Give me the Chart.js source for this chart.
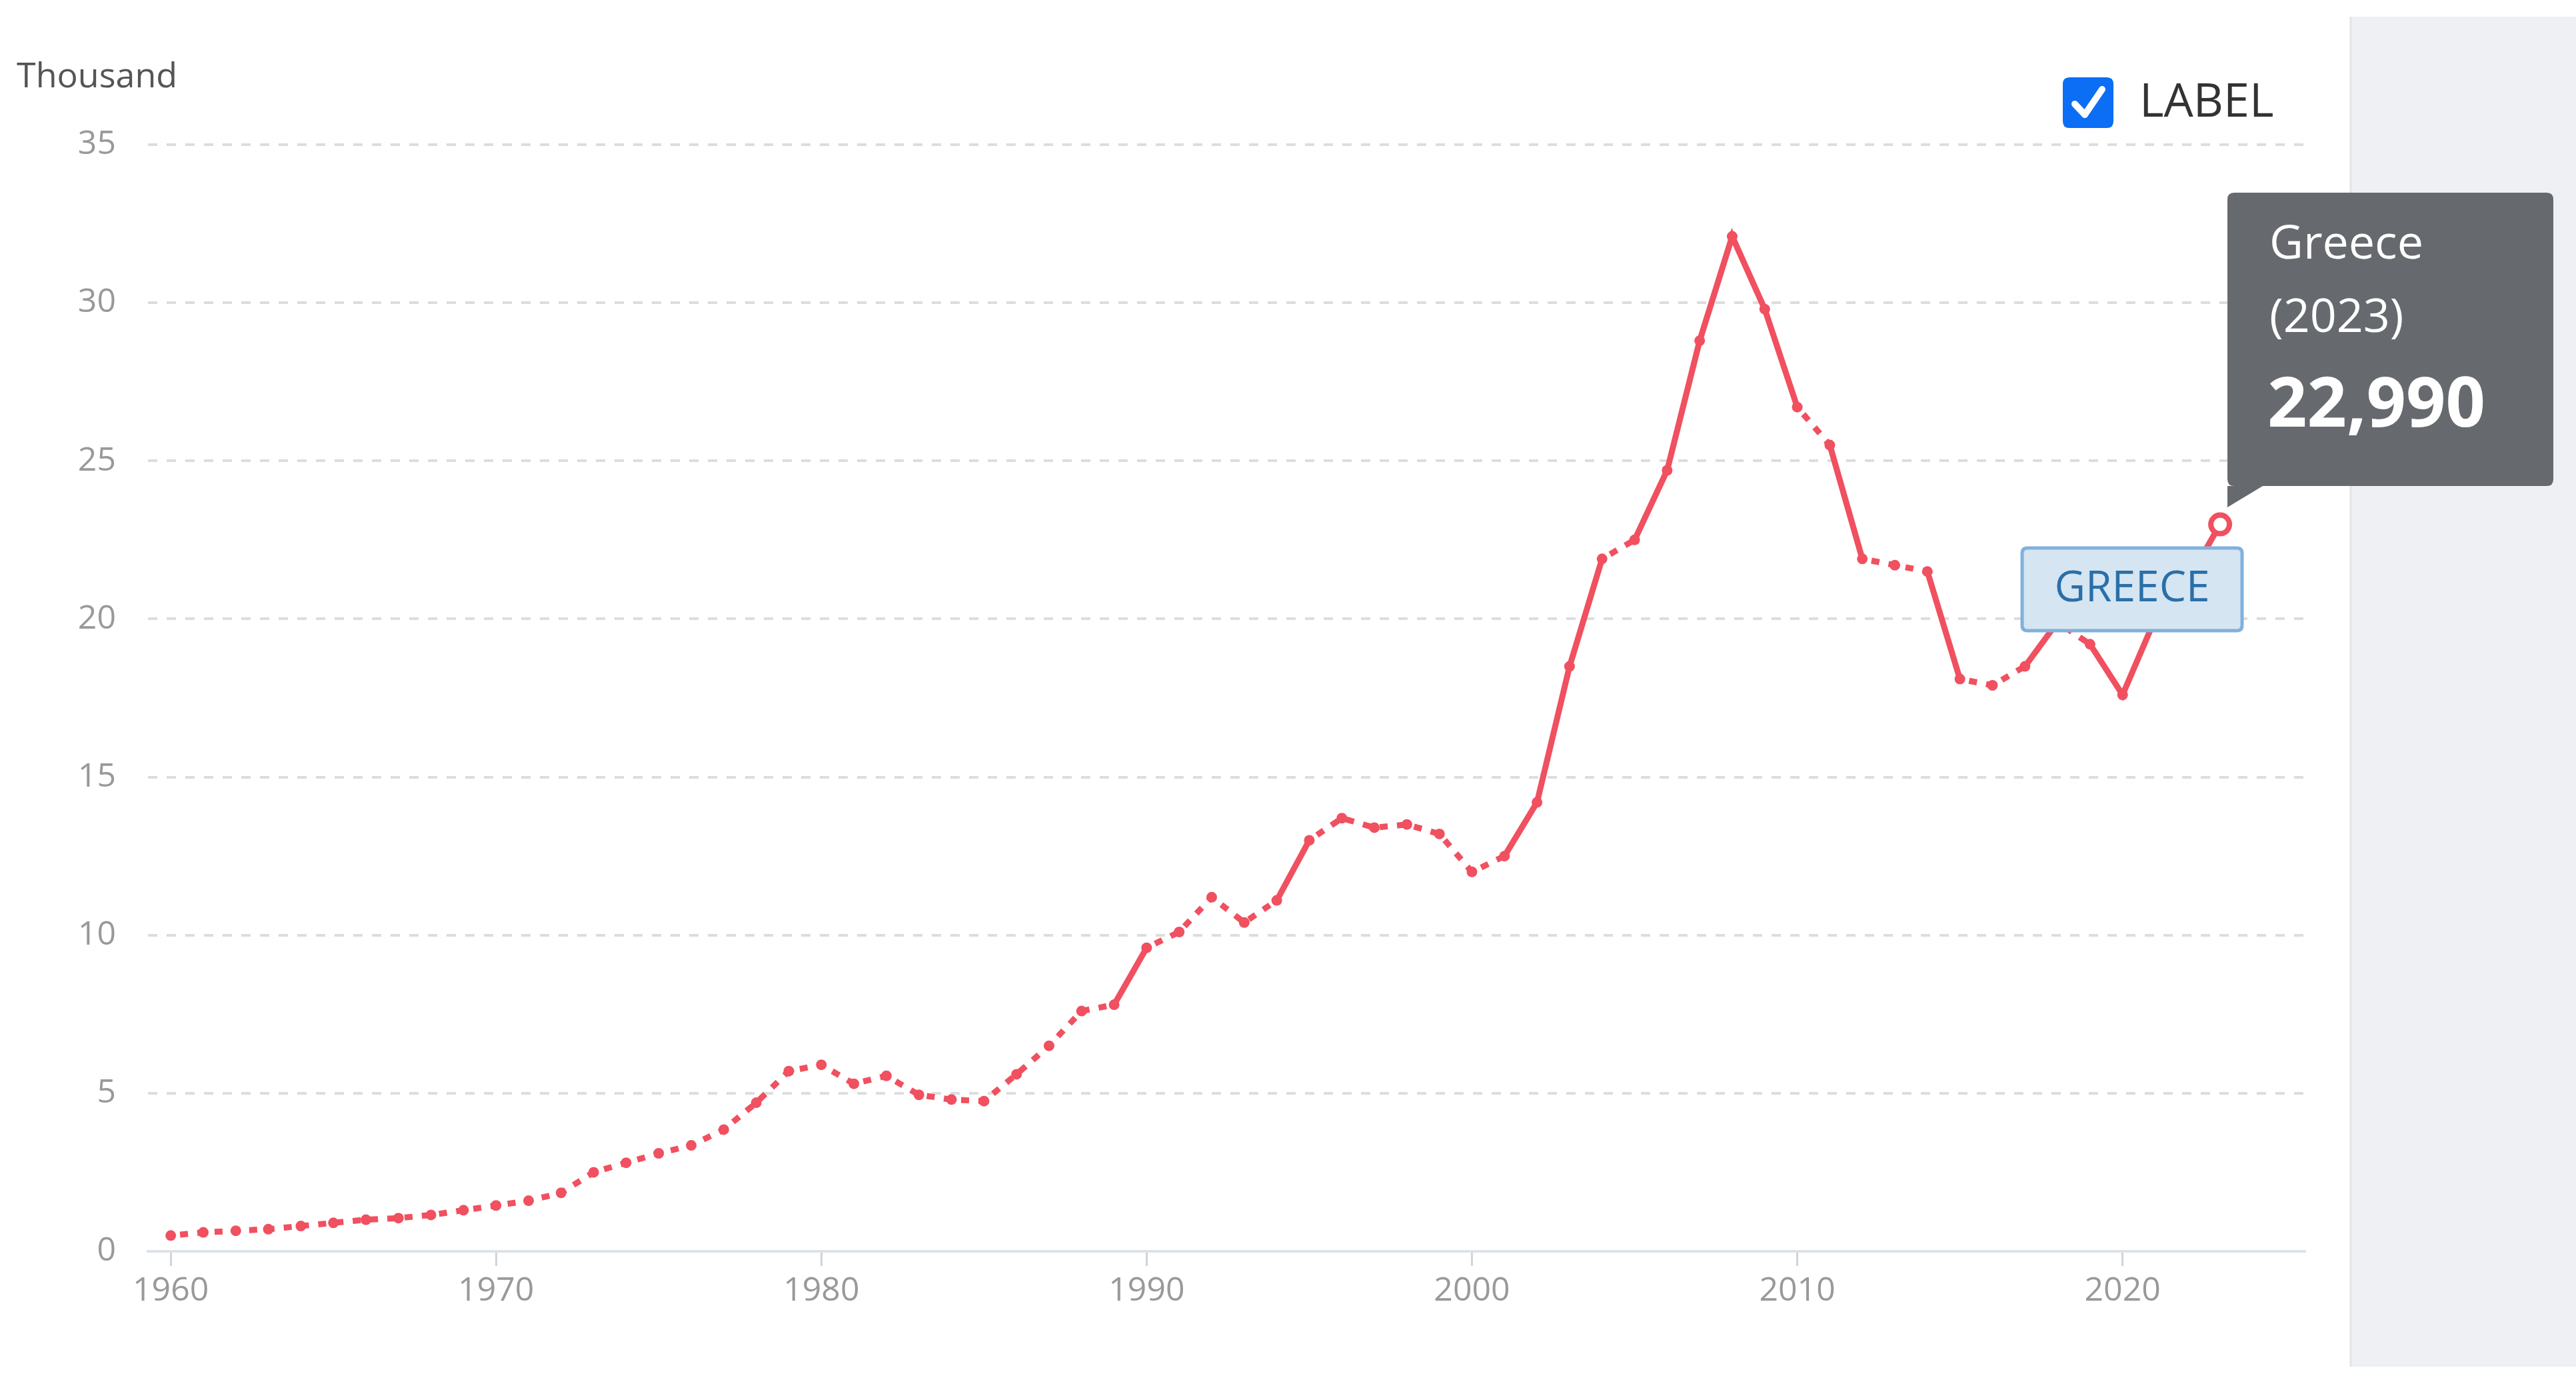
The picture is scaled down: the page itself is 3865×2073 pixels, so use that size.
<!DOCTYPE html>
<html><head><meta charset="utf-8">
<script src="https://cdn.jsdelivr.net/npm/chart.js@4"></script>
<style>html,body{margin:0;padding:0;background:#fff;}canvas{display:block;}</style>
</head><body>
<canvas id="c" width="3865" height="2073" style="width:3865px;height:2073px"></canvas>
<script>
const years = [];
for (let y = 1960; y <= 2023; y++) years.push(y);
const values = [0.5,0.6,0.65,0.7,0.8,0.9,1.0,1.05,1.15,1.3,
1.45,1.6,1.85,2.5,2.8,3.1,3.35,3.85,4.7,5.7,
5.9,5.3,5.55,4.95,4.8,4.75,5.6,6.5,7.6,7.8,
9.6,10.1,11.2,10.4,11.1,13.0,13.7,13.4,13.5,13.2,
12.0,12.5,14.2,18.5,21.9,22.5,24.7,28.8,32.1,29.8,
26.7,25.5,21.9,21.7,21.5,18.1,17.9,18.5,19.9,19.2,
17.6,20.0,21.2,22.99];
const xTicks = [1960,1970,1980,1990,2000,2010,2020];
const yTicks = [0,5,10,15,20,25,30,35];
const seriesName = 'Greece';
const legendLabel = 'LABEL';
const tagLabel = 'GREECE';
const tooltipValue = '22,990';
const unitLabel = 'Thousand';

const RED = '#f0505f';
const FONT = '"Open Sans", "Noto Sans", sans-serif';

function roundRect(ctx,x,y,w,h,r){ctx.beginPath();ctx.moveTo(x+r,y);ctx.lineTo(x+w-r,y);ctx.quadraticCurveTo(x+w,y,x+w,y+r);ctx.lineTo(x+w,y+h-r);ctx.quadraticCurveTo(x+w,y+h,x+w-r,y+h);ctx.lineTo(x+r,y+h);ctx.quadraticCurveTo(x,y+h,x,y+h-r);ctx.lineTo(x,y+r);ctx.quadraticCurveTo(x,y,x+r,y);ctx.closePath();}

const decor = {
  id:'decor',
  beforeDraw(chart){
    const c = chart.ctx;
    c.save();
    c.fillStyle='#eff0f4';
    c.fillRect(3527,25,338,2025);
    c.strokeStyle='#e2e4ea';c.lineWidth=3;
    c.beginPath();c.moveTo(3527,25);c.lineTo(3527,2050);c.stroke();
    c.restore();
  },
  afterDraw(chart){
    const c = chart.ctx;
    const meta = chart.getDatasetMeta(0);
    const last = meta.data[meta.data.length-1];
    const px = last.x, py = last.y;
    c.save();
    // unit label
    c.fillStyle='#555';c.font='52px '+FONT;c.textBaseline='middle';c.textAlign='left';
    c.fillText(unitLabel,25,116);
    // legend
    roundRect(c,3095,116,76,76,10);c.fillStyle='#0b6ef5';c.fill();
    c.strokeStyle='#fff';c.lineWidth=10;c.lineCap='round';c.lineJoin='round';
    c.beginPath();c.moveTo(3113,156);c.lineTo(3128,172);c.lineTo(3154,134);c.stroke();
    c.fillStyle='#333';c.font='70px '+FONT;c.fillText(legendLabel,3210,155);
    // tag label
    roundRect(c,3034,822,330,124,8);c.fillStyle='#d5e5f2';c.fill();
    c.strokeStyle='#80b1dc';c.lineWidth=5;c.stroke();
    c.fillStyle='#2a6fa8';c.font='64px '+FONT;c.textAlign='center';
    c.fillText(tagLabel,3199,884);
    // tooltip
    c.fillStyle='#666a6e';
    roundRect(c,3342,289,489,440,10);c.fill();
    c.beginPath();c.moveTo(3342,729);c.lineTo(3395,729);c.lineTo(px+10,py-25);c.lineTo(3342,760);c.closePath();c.fill();
    c.fillStyle='#fff';c.textAlign='left';
    c.font='70px '+FONT;
    c.fillText(seriesName,3405,368);
    c.fillText('(2023)',3405,478);
    c.font='bold 104px '+FONT;
    c.fillText(tooltipValue,3402,610);
    // last point hollow
    c.beginPath();c.arc(px,py,14,0,Math.PI*2);c.fillStyle='#fff';c.fill();
    c.lineWidth=8;c.strokeStyle=RED;c.stroke();
    c.restore();
  }
};

new Chart(document.getElementById('c'),{
  type:'line',
  data:{datasets:[{
    label:seriesName,
    data: years.map((y,i)=>({x:y,y:values[i]})),
    borderColor:RED, backgroundColor:RED, borderWidth:9,
    pointRadius:8, pointHoverRadius:8, pointBorderWidth:0, pointBackgroundColor:RED,
    tension:0,
    segment:{
      borderDash: ctx => {
        const dx = Math.abs(ctx.p1.x-ctx.p0.x), dy = Math.abs(ctx.p1.y-ctx.p0.y);
        return dy > dx*1.3 ? undefined : [12,14];
      },
      borderDashOffset: () => -14
    }
  }]},
  options:{
    responsive:false, animation:false, devicePixelRatio:1,
    layout:{padding:{left:0,right:407,top:217,bottom:0}},
    plugins:{legend:{display:false},tooltip:{enabled:false}},
    scales:{
      x:{type:'linear',min:1959.3,max:2025.6,
        afterBuildTicks: s => { s.ticks = xTicks.map(v=>({value:v})); },
        afterFit: s => { s.height = 2073-1877; },
        border:{display:true,color:'#dde3e8',width:4},
        grid:{drawOnChartArea:false,drawTicks:true,tickLength:22,color:'#cfd5da',lineWidth:3},
        ticks:{color:'#999',font:{size:50,family:FONT},padding:8,callback:v=>String(v)}
      },
      y:{min:0,max:35,
        afterBuildTicks: s => { s.ticks = yTicks.map(v=>({value:v})); },
        afterFit: s => { s.width = 222; },
        border:{display:false,dash:[14,14]},
        grid:{color:'#dddddd',lineWidth:4,drawTicks:false},
        ticks:{color:'#999',font:{size:50,family:FONT},padding:48}
      }
    }
  },
  plugins:[decor]
});
</script>
</body></html>
